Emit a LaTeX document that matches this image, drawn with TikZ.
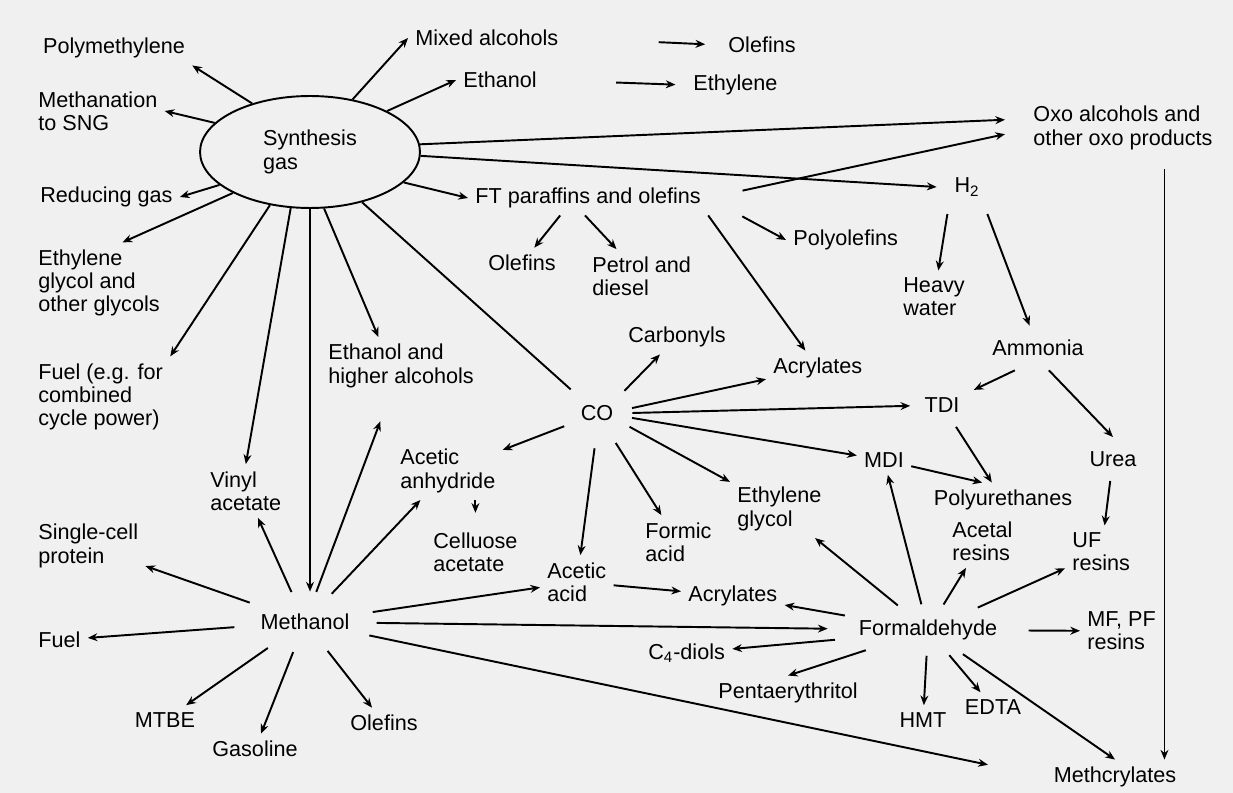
\documentclass[tikz,border=0pt]{standalone}
\usepackage{fontspec}
\setmainfont{Liberation Sans}
\usetikzlibrary{arrows.meta,shapes.geometric}
\tikzset{
  lbl/.style={inner sep=4pt, align=left, font=\fontsize{12.3}{13.2}\selectfont},
  hubnode/.style={lbl, ellipse},
  arr/.style={line width=1.1pt, -{Stealth[length=5.5pt,width=4.5pt]}},
  plainln/.style={line width=1.1pt},
}

\begin{document}
\begin{tikzpicture}[x=0.02cm, y=-0.02cm]
\fill[black!6] (0,0) rectangle (1233,793);
\useasboundingbox (0,0) rectangle (1233,793);

\node[lbl, ellipse, draw, line width=1.1pt, minimum width=4.4cm, minimum height=2.24cm] (sg) at (310,152) {Synthesis\\gas};
\node[hubnode, inner xsep=3.4pt, inner ysep=7.6pt] (meoh) at (305,622) {Methanol};
\node[hubnode, inner xsep=1pt, inner ysep=4.5pt] (formal) at (928,630) {Formaldehyde};
\node[lbl, circle, inner sep=0pt, minimum size=1.4cm] (co) at (597,413) {CO};

\node[lbl] (poly) at (114,48) {Polymethylene};
\node[lbl, anchor=west] (meth) at (31,111) {Methanation\\to SNG};
\node[lbl, anchor=west] (redgas) at (33,197) {Reducing gas};
\node[lbl, anchor=west] (eglyc) at (31,283) {Ethylene\\glycol and\\other glycols};
\node[lbl, anchor=west] (fuel1) at (31,397) {Fuel (e.g. for\\combined\\cycle power)};
\node[lbl, anchor=west] (scp) at (31,546) {Single-cell\\protein};
\node[lbl, anchor=west] (fuel2) at (31,640) {Fuel};
\node[lbl] (mtbe) at (165,720) {MTBE};
\node[lbl] (gasol) at (255,749) {Gasoline};
\node[lbl] (olef3) at (384,723) {Olefins};
\node[lbl, anchor=west] (vinyl) at (203,491) {Vinyl\\acetate};
\node[lbl, anchor=west] (etoh2) at (321,366) {Ethanol and\\higher alcohols};

\node[lbl, anchor=west] (mixalc) at (408,38) {Mixed alcohols};
\node[lbl, anchor=west] (olef1) at (721,45) {Olefins};
\node[lbl, anchor=west] (etoh1) at (456,80) {Ethanol};
\node[lbl, anchor=west] (ethyl) at (686,85) {Ethylene};
\node[lbl, anchor=west] (ft) at (468,198) {FT paraffins and olefins};
\node[lbl] (olef2) at (522,263) {Olefins};
\node[lbl, anchor=west] (petrol) at (585,276) {Petrol and\\diesel};
\node[lbl, anchor=west] (polyol) at (786,240) {Polyolefins};
\node[lbl, anchor=west, inner xsep=16pt] (oxo) at (1005,128) {Oxo alcohols and\\other oxo products};
\node[lbl, inner sep=10pt] (h2) at (967,187) {H\textsubscript{2}};
\node[lbl, anchor=west] (heavy) at (896,297) {Heavy\\water};
\node[lbl, inner ysep=8pt] (ammonia) at (1038,348) {Ammonia};

\node[lbl] (carb) at (677,337) {Carbonyls};
\node[lbl, anchor=west] (acryl1) at (766,368) {Acrylates};
\node[lbl, inner sep=8pt] (tdi) at (942,405) {TDI};
\node[lbl, inner sep=8pt] (urea) at (1113,459) {Urea};
\node[lbl] (mdi) at (884,460) {MDI};
\node[lbl] (purethane) at (1003,500) {Polyurethanes};
\node[lbl, anchor=west] (aceanh) at (393,471) {Acetic\\anhydride};
\node[lbl, anchor=west] (cellu) at (426,552) {Celluose\\acetate};
\node[lbl, anchor=west] (formic) at (638,542) {Formic\\acid};
\node[lbl, anchor=west] (egly2) at (730,509) {Ethylene\\glycol};
\node[lbl, anchor=west] (acetal) at (945,541) {Acetal\\resins};
\node[lbl, anchor=west] (ufres) at (1065,552) {UF\\resins};
\node[lbl, anchor=west] (acetic) at (540,582) {Acetic\\acid};
\node[lbl, anchor=west] (acryl2) at (681,596) {Acrylates};
\node[lbl, anchor=west] (mfpf) at (1080,631) {MF, PF\\resins};
\node[lbl, anchor=west] (c4) at (641,653) {C\textsubscript{4}-diols};
\node[lbl, anchor=west] (penta) at (711,693) {Pentaerythritol};
\node[lbl] (hmt) at (923,720) {HMT};
\node[lbl] (edta) at (993,707) {EDTA};
\node[lbl] (methcr) at (1115,777) {Methcrylates};

\draw[arr] (sg.140) -- (poly.south east);
\draw[arr] (sg.163) -- (meth.east);
\draw[arr] (sg.200) -- (redgas.east);
\draw[arr] (sg.208) -- (eglyc.60);
\draw[arr] (sg.233) -- (fuel1.north east);
\draw[arr] (sg.251) -- (vinyl.north);
\draw[arr] (sg.south) -- (sg.south |- meoh.north);
\draw[arr] (sg.284) -- (etoh2.128);
\draw[plainln] (sg.316) -- (co);
\draw[arr] (sg.342) -- (ft.west);
\draw[arr] (sg.358) -- (h2.west);
\draw[arr] (sg.4) -- (oxo.176);
\draw[arr] (sg.28) -- (etoh1.west);
\draw[arr] (sg.51) -- (mixalc.west);

\draw[arr, shorten <=53pt, shorten >=9pt] (mixalc.east) -- (olef1.west);
\draw[arr, shorten <=41pt, shorten >=6pt] (etoh1.east) -- (ethyl.west);

\draw[arr] (ft.212) -- (olef2);
\draw[arr] (ft.260) -- (petrol);
\draw[arr, shorten <=20pt] (ft.east) -- (oxo.183);
\draw[arr, shorten <=22pt] (ft.east) -- (polyol.west);
\draw[arr] (ft.south east) -- (acryl1);

\draw[arr] (h2.234) -- (heavy);
\draw[arr] (h2.307) -- (ammonia);
\draw[arr] (ammonia.224) -- (tdi);
\draw[arr] (ammonia.296) -- (urea.north);
\draw[arr] (urea) -- (ufres);
\draw[arr] (tdi) -- (purethane);
\draw[arr] (mdi) -- (purethane.140);
\draw[arr, shorten <=7pt] (oxo.-35) -- (oxo.-35 |- methcr.north);

\draw[arr] (co.39) -- (carb);
\draw[arr] (co.8) -- (acryl1);
\draw[arr] (co.0) -- (tdi);
\draw[arr] (co.-8) -- (mdi);
\draw[arr] (co.-23) -- (egly2);
\draw[arr] (co.-58) -- (formic);
\draw[arr] (co.266) -- (acetic);
\draw[arr] (co.202) -- (aceanh);
\draw[arr, shorten >=7pt] (aceanh.south -| cellu.north) -- (cellu.north);

\draw[arr] (meoh) -- (scp);
\draw[arr] (meoh) -- (fuel2);
\draw[arr] (meoh) -- (mtbe);
\draw[arr] (meoh) -- (gasol);
\draw[arr] (meoh) -- (olef3);
\draw[arr] (meoh) -- (vinyl);
\draw[arr, shorten >=16pt] (meoh) -- (etoh2);
\draw[arr] (meoh) -- (aceanh);
\draw[arr] (meoh) -- (acetic);
\draw[arr] (meoh) -- (formal);
\draw[arr, shorten >=34pt] (meoh) -- (methcr.west);
\draw[arr] (acetic) -- (acryl2);

\draw[arr] (formal) -- (acryl2);
\draw[arr] (formal.186) -- (c4);
\draw[arr] (formal) -- (penta.north);
\draw[arr] (formal) -- (hmt);
\draw[arr] (formal) -- (edta);
\draw[arr] (formal) -- (methcr.north);
\draw[arr] (formal) -- (mfpf);
\draw[arr] (formal) -- (ufres);
\draw[arr] (formal) -- (acetal);
\draw[arr] (formal) -- (mdi);
\draw[arr] (formal) -- (egly2);
\end{tikzpicture}
\end{document}
